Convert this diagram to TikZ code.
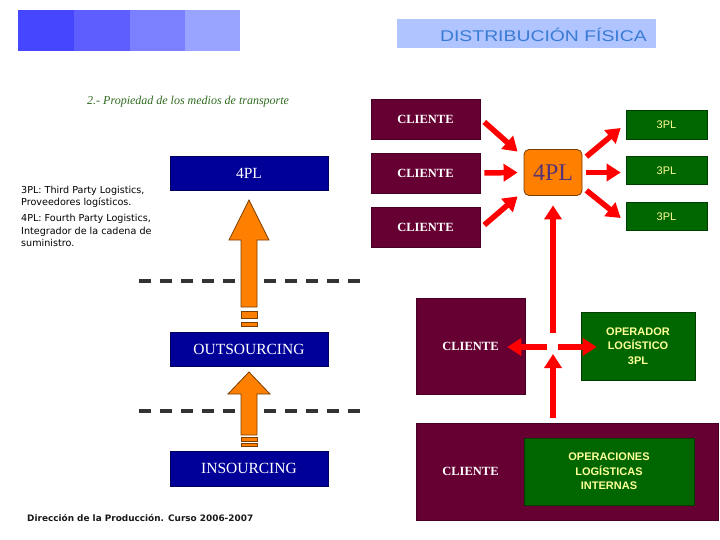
\documentclass[tikz,border=0pt]{standalone}
\usepackage{fontspec}
\setmainfont{Liberation Serif}
\setsansfont{Liberation Sans}
\newfontfamily\dejavu{DejaVu Sans}
\newfontfamily\titlefont[FakeStretch=1.25]{Liberation Sans}
\usetikzlibrary{arrows.meta,calc}
\definecolor{maroon}{HTML}{660033}
\definecolor{navy}{HTML}{000099}
\definecolor{dgreen}{HTML}{006600}
\definecolor{lyellow}{HTML}{FFFF99}
\definecolor{orng}{HTML}{FF8000}
\definecolor{brwn}{HTML}{7A3D00}
\definecolor{purp}{HTML}{553377}
\definecolor{sqa}{HTML}{4646FF}
\definecolor{sqb}{HTML}{5E5EFF}
\definecolor{sqc}{HTML}{7A80FF}
\definecolor{sqd}{HTML}{98A4FF}
\definecolor{titlebg}{HTML}{B0C4FF}
\definecolor{titleblue}{HTML}{3A7BD5}
\definecolor{subgreen}{HTML}{2E6B1E}
\definecolor{dashgray}{HTML}{333333}
\begin{document}
\begin{tikzpicture}[x=1pt,y=-1pt,
  clbox/.style={fill=maroon, draw=maroon!70!black, line width=0.6pt, text=white,
    font=\bfseries\fontsize{12.5}{14}\selectfont, minimum width=109pt, minimum height=40pt, inner sep=0pt},
  navybox/.style={fill=navy, draw=navy!60!black, line width=0.6pt, text=white,
    font=\fontsize{15.5}{17}\selectfont, minimum width=158pt, minimum height=34pt, inner sep=0pt},
  tplbox/.style={fill=dgreen, draw=dgreen!60!black, line width=0.6pt, text=lyellow,
    font=\sffamily\fontsize{11}{13}\selectfont, minimum width=81pt, minimum height=28.5pt, inner sep=0pt},
  opbox/.style={fill=dgreen, draw=dgreen!60!black, line width=0.6pt, text=lyellow, align=center,
    font=\sffamily\bfseries\fontsize{11}{14.5}\selectfont, inner sep=0pt},
  fourbox/.style={fill=orng, draw=brwn, line width=0.8pt, rounded corners=5pt, text=purp,
    font=\fontsize{24}{26}\selectfont, minimum width=58pt, minimum height=46pt, inner sep=0pt},
  redarr/.style={draw=red, line width=5.5pt, -{Triangle[length=14pt,width=17pt]}},
  oarrow/.style={fill=orng, draw=brwn, line width=0.8pt},
  dashline/.style={draw=dashgray, line width=4pt, dash pattern=on 12pt off 9pt},
  note/.style={anchor=base west, inner sep=0pt, align=left, text=black,
    font=\dejavu\fontsize{9.6}{12.5}\selectfont}
]
\useasboundingbox (0,0) rectangle (720,540);
% top squares
\fill[sqa] (18,10) rectangle (74,51);
\fill[sqb] (74,10) rectangle (130,51);
\fill[sqc] (130,10) rectangle (185,51);
\fill[sqd] (185,10) rectangle (240,51);
% title
\node[fill=titlebg, minimum width=259pt, minimum height=29pt, inner sep=0pt] (tb) at (526.5,33.5) {};
\node[anchor=base east, inner sep=0pt, text=titleblue, font=\titlefont\fontsize{15.5}{17}\selectfont] (tt) at (647,42) {DISTRIBUCIÓN FÍSICA};
% subtitle
\node[anchor=base west, inner sep=0pt, text=subgreen, font=\itshape\fontsize{12}{14}\selectfont] (sub) at (87,105) {2.- Propiedad de los medios de transporte};
% notes (base anchor = last line)
\node[note] (n1) at (21,205.5) {3PL: Third Party Logistics,\\Proveedores logísticos.};
\node[note] (n2) at (21,247) {4PL: Fourth Party Logistics,\\Integrador de la cadena de\\suministro.};
% left column
\node[navybox] (b4) at (249,173) {4PL};
\node[navybox] (bo) at (249,349) {OUTSOURCING};
\node[navybox, minimum height=35pt] (bi) at (249,468.5) {INSOURCING};
\filldraw[oarrow] (249,200) -- (269,240) -- (257,240) -- (257,307) -- (241,307) -- (241,240) -- (229,240) -- cycle;
\filldraw[oarrow] (241,311) rectangle (257,318);
\filldraw[oarrow] (241,322) rectangle (257,326);
\filldraw[oarrow] (249,372) -- (270,394) -- (257,394) -- (257,435) -- (241,435) -- (241,394) -- (228,394) -- cycle;
\filldraw[oarrow] (241,437) rectangle (257,441);
\filldraw[oarrow] (241,443) rectangle (257,446);
\draw[dashline] (139,280.5) -- (236,280.5);
\draw[dashline] (264,280.5) -- (361,280.5);
\draw[dashline] (139,411) -- (236,411);
\draw[dashline] (264,411) -- (361,411);
% footer
\node[anchor=base west, inner sep=0pt, text=black!90, font=\dejavu\bfseries\fontsize{8.9}{10}\selectfont] (ft) at (27,521) {Dirección de la Producción. Curso 2006-2007};
% right upper
\node[clbox] (c1) at (425.5,119) {CLIENTE};
\node[clbox] (c2) at (425.5,173) {CLIENTE};
\node[clbox] (c3) at (425.5,227) {CLIENTE};
\node[fourbox] (fp) at (553,172.5) {4PL};
\node[tplbox] (t1) at (666.5,125) {3PL};
\node[tplbox] (t2) at (666.5,170.5) {3PL};
\node[tplbox] (t3) at (666.5,216.5) {3PL};
\draw[redarr] ($(c1.east)+(4,3)$) -- ($(fp.north west)+(-6,2.5)$);
\draw[redarr] ($(c2.east)+(4,0)$) -- ($(fp.west)+(-6,0)$);
\draw[redarr] ($(c3.east)+(4,-2)$) -- ($(fp.south west)+(-6,0.5)$);
\draw[redarr] ($(fp.north east)+(4,7.5)$) -- ($(t1.west)+(-5,3)$);
\draw[redarr] ($(fp.east)+(4,0)$) -- ($(fp.east -| t2.west)+(-5,0)$);
\draw[redarr] ($(fp.south east)+(4,-5.5)$) -- ($(t3.west)+(-5,1.5)$);
% right lower
\node[clbox, minimum height=96pt] (lc) at (470.5,346) {CLIENTE};
\node[opbox, minimum width=114pt, minimum height=68pt] (op) at (638,346) {OPERADOR\\LOGÍSTICO\\3PL};
\node[fill=maroon, draw=maroon!70!black, line width=0.6pt, minimum width=302pt, minimum height=97pt, inner sep=0pt] (bg) at (567,471.5) {};
\node[inner sep=0pt, text=white, font=\bfseries\fontsize{12.5}{14}\selectfont] (lc2) at (470.5,471) {CLIENTE};
\node[opbox, minimum width=170pt, minimum height=67pt] (oi) at (609,471.5) {OPERACIONES\\LOGÍSTICAS\\INTERNAS};
\coordinate (cross) at (553,347);
\coordinate (vbot) at (553,333);
\draw[redarr] (vbot) -- ($(fp.south)+(0,9.5)$);
\draw[redarr] ($(cross)+(-6,0)$) -- ($(lc.east)+(-18,1)$);
\draw[redarr] ($(cross)+(5,0)$) -- ($(op.west)+(16,1)$);
\draw[redarr] ($(bg.north -| cross)+(0,-5)$) -- ($(cross)+(0,7)$);
\end{tikzpicture}
\end{document}
